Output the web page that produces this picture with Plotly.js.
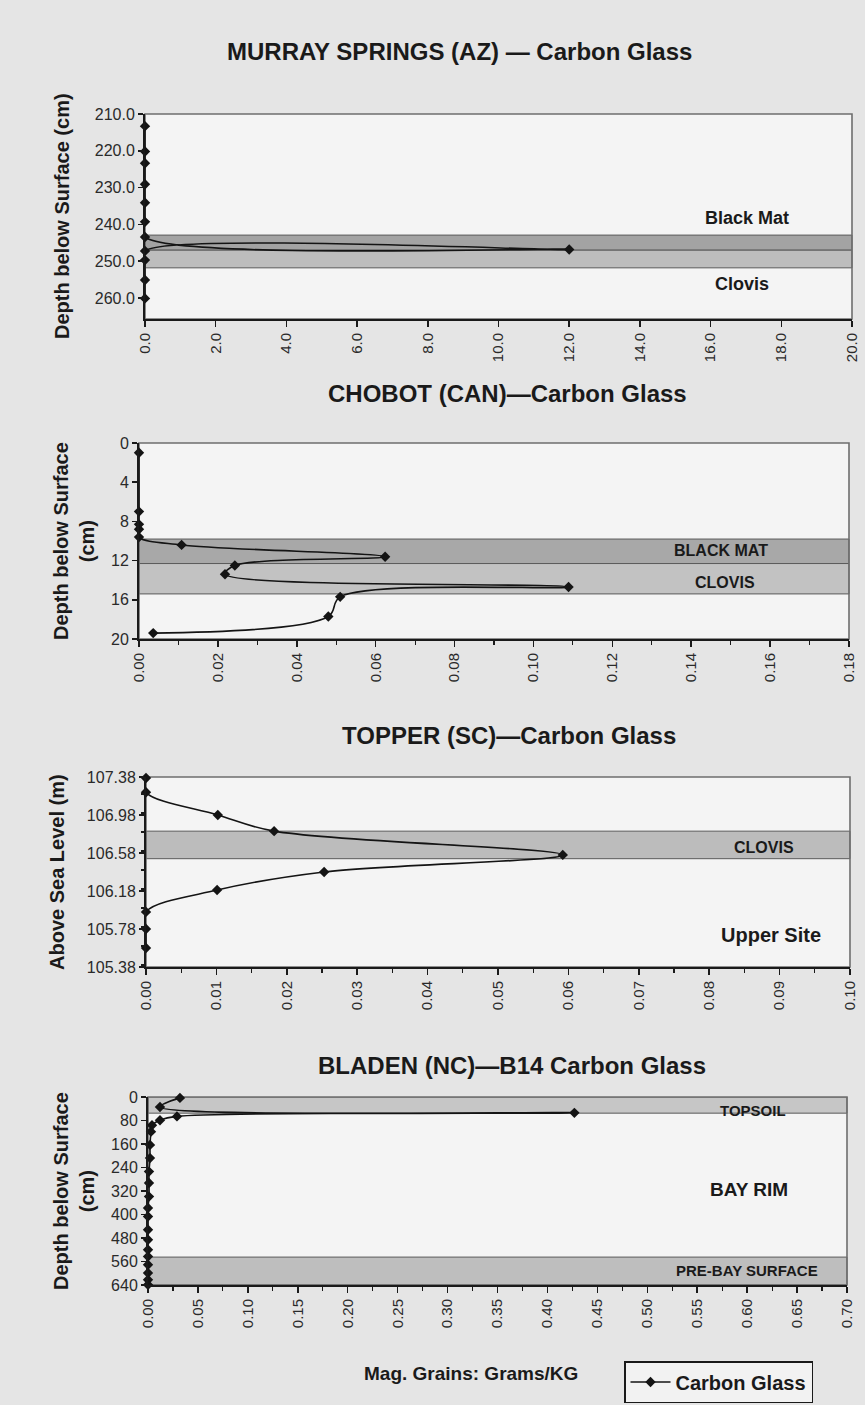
<!DOCTYPE html>
<html>
<head>
<meta charset="utf-8">
<script src="https://cdn.plot.ly/plotly-3.0.1.min.js"></script>
<style>html,body{margin:0;padding:0;background:#e5e5e5;}#chart{width:865px;height:1405px;}</style>
</head>
<body>
<div id="chart"></div>
<script>
// ---------- DATA ----------
const seriesName = "Carbon Glass";
const xAxisTitle = "Mag. Grains: Grams/KG";

// Panel 1: Murray Springs (AZ)
const murrayTitle = "MURRAY SPRINGS (AZ) — Carbon Glass";
const murrayDepth = [213.3, 220.2, 223.4, 229.1, 234.1, 239.3, 243.4, 246.8, 247.2, 249.7, 255.1, 260.1];
const murrayValue = [0, 0, 0, 0, 0, 0, 0, 12.0, 0, 0, 0, 0];
const murrayBands = [["Black Mat", 242.9, 247.0], ["Clovis", 247.0, 251.8]];

// Panel 2: Chobot (CAN)
const chobotTitle = "CHOBOT (CAN)—Carbon Glass";
const chobotDepth = [1.0, 7.0, 8.3, 8.8, 9.6, 10.4, 11.6, 12.5, 13.4, 14.7, 15.7, 17.7, 19.4];
const chobotValue = [0, 0, 0, 0, 0, 0.0108, 0.0624, 0.0243, 0.0218, 0.1089, 0.051, 0.048, 0.0036];
const chobotBands = [["BLACK MAT", 9.8, 12.3], ["CLOVIS", 12.3, 15.4]];

// Panel 3: Topper (SC)
const topperTitle = "TOPPER (SC)—Carbon Glass";
const topperElev = [107.37, 107.22, 106.98, 106.81, 106.56, 106.38, 106.19, 105.96, 105.78, 105.58];
const topperValue = [0, 0, 0.0102, 0.0182, 0.0592, 0.0253, 0.0101, 0, 0, 0];
const topperBands = [["CLOVIS", 106.52, 106.81]];

// Panel 4: Bladen (NC) B14
const bladenTitle = "BLADEN (NC)—B14 Carbon Glass";
const bladenDepth = [3, 34, 54, 66, 79, 96, 118, 163, 208, 254, 293, 339, 378, 407, 452, 486, 520, 543, 571, 599, 622, 639];
const bladenValue = [0.032, 0.012, 0.427, 0.029, 0.012, 0.004, 0.003, 0.002, 0.002, 0.001, 0.001, 0.001, 0, 0, 0, 0, 0, 0, 0, 0, 0, 0];
const bladenBands = [["TOPSOIL", 0, 55], ["PRE-BAY SURFACE", 545, 640]];
const bladenNote = "BAY RIM";
const topperNote = "Upper Site";

// ---------- LAYOUT HELPERS ----------
const W = 865, H = 1405;
const fx = v => v / W;
const fy = v => 1 - v / H;
const FONT = "Liberation Sans, Arial, sans-serif";

function xAxis(anchor, left, right, range, dtick, fmt, minor) {
  const a = {
    anchor: anchor, domain: [fx(left), fx(right)], range: range, autorange: false,
    tick0: 0, dtick: dtick, tickformat: fmt, tickangle: -90,
    showgrid: false, zeroline: false, showline: true, linecolor: "#1a1a1a", linewidth: 2,
    ticks: "outside", ticklen: 6, tickwidth: 1.5, tickcolor: "#1a1a1a",
    tickfont: {family: FONT, size: 15, color: "#2a2a2a"}, fixedrange: true
  };
  if (minor) a.minor = {dtick: minor, ticks: "outside", ticklen: 4, tickwidth: 1.2, tickcolor: "#1a1a1a", showgrid: false};
  return a;
}
function yAxis(anchor, top, bottom, range, tick0, dtick, fmt, minor) {
  const a = {
    anchor: anchor, domain: [fy(bottom), fy(top)], range: range, autorange: false,
    tick0: tick0, dtick: dtick, tickformat: fmt,
    showgrid: false, zeroline: false, showline: true, linecolor: "#1a1a1a", linewidth: 2,
    ticks: "outside", ticklen: 5, tickwidth: 1.5, tickcolor: "#1a1a1a",
    tickfont: {family: FONT, size: 16, color: "#2a2a2a"}, fixedrange: true
  };
  if (minor) a.minor = {dtick: minor, ticks: "outside", ticklen: 3, tickwidth: 1.2, tickcolor: "#1a1a1a", showgrid: false};
  return a;
}
function trace(xs, ys, xa, ya, legend) {
  return {
    x: xs, y: ys, xaxis: xa, yaxis: ya, type: "scatter", mode: "lines+markers",
    name: seriesName, showlegend: legend, cliponaxis: false,
    line: {color: "#141414", width: 1.6, shape: "spline", smoothing: 1},
    marker: {symbol: "diamond", size: 8, color: "#141414"}
  };
}
function band(xa, ya, y0, y1, color) {
  return {type: "rect", xref: xa + " domain", yref: ya, x0: 0, x1: 1, y0: y0, y1: y1,
          fillcolor: color, line: {color: "#5a5a5a", width: 1}, layer: "below"};
}
function frame(xa, ya) {
  return {type: "rect", xref: xa + " domain", yref: ya + " domain", x0: 0, x1: 1, y0: 0, y1: 1,
          fillcolor: "rgba(0,0,0,0)", line: {color: "#6e6e6e", width: 1.6}, layer: "below"};
}
function label(text, x, y, size, bold, angle) {
  return {text: text, xref: "paper", yref: "paper", x: fx(x), y: fy(y), showarrow: false,
          xanchor: "center", yanchor: "middle", textangle: angle || 0,
          font: {family: FONT, size: size, color: "#1a1a1a", weight: bold ? "bold" : "normal"}};
}

const data = [
  trace(murrayValue, murrayDepth, "x", "y", true),
  trace(chobotValue, chobotDepth, "x2", "y2", false),
  trace(topperValue, topperElev, "x3", "y3", false),
  trace(bladenValue, bladenDepth, "x4", "y4", false)
];

const shapes = [
  band("x", "y", murrayBands[0][1], murrayBands[0][2], "#a3a3a3"),
  band("x", "y", murrayBands[1][1], murrayBands[1][2], "#bdbdbd"),
  band("x2", "y2", chobotBands[0][1], chobotBands[0][2], "#a8a8a8"),
  band("x2", "y2", chobotBands[1][1], chobotBands[1][2], "#c2c2c2"),
  band("x3", "y3", topperBands[0][1], topperBands[0][2], "#bcbcbc"),
  band("x4", "y4", bladenBands[0][1], bladenBands[0][2], "#c6c6c6"),
  band("x4", "y4", bladenBands[1][1], bladenBands[1][2], "#bebebe"),
  frame("x", "y"), frame("x2", "y2"), frame("x3", "y3"), frame("x4", "y4")
];

const annotations = [
  label(murrayTitle, 459, 52, 24, true),
  label(chobotTitle, 507, 393, 24, true),
  label(topperTitle, 509, 735, 24, true),
  label(bladenTitle, 512, 1065, 24, true),
  label("Depth below Surface (cm)", 62, 216, 20, true, -90),
  label("Depth below Surface<br>(cm)", 74, 541, 20, true, -90),
  label("Above Sea Level (m)", 57, 872, 20, true, -90),
  label("Depth below Surface<br>(cm)", 74, 1191, 20, true, -90),
  label(murrayBands[0][0], 747, 218, 18, true),
  label(murrayBands[1][0], 742, 284, 18, true),
  label(chobotBands[0][0], 721, 550, 16, true),
  label(chobotBands[1][0], 725, 582, 16, true),
  label(topperBands[0][0], 764, 847, 16, true),
  label(topperNote, 771, 935, 20, true),
  label(bladenBands[0][0], 753, 1110, 15, true),
  label(bladenNote, 749, 1189, 19, true),
  label(bladenBands[1][0], 747, 1270, 15, true),
  label(xAxisTitle, 471, 1373, 19, true)
];

const layout = {
  width: W, height: H, margin: {l: 0, r: 0, t: 0, b: 0},
  paper_bgcolor: "#e5e5e5", plot_bgcolor: "#f4f4f4",
  font: {family: FONT, color: "#1a1a1a"},
  xaxis:  xAxis("y", 145, 852, [0, 20], 2, ".1f", null),
  yaxis:  yAxis("x", 114, 319, [265.7, 210], 210, 10, ".1f", null),
  xaxis2: xAxis("y2", 139, 849, [0, 0.18], 0.02, ".2f", 0.01),
  yaxis2: yAxis("x2", 443, 639, [20, 0], 0, 4, "d", null),
  xaxis3: xAxis("y3", 146, 850, [0, 0.10], 0.01, ".2f", 0.005),
  yaxis3: yAxis("x3", 777, 967, [105.38, 107.38], 105.38, 0.4, ".2f", 0.2),
  xaxis4: xAxis("y4", 148, 847, [0, 0.70], 0.05, ".2f", 0.025),
  yaxis4: yAxis("x4", 1097, 1285, [640, 0], 0, 80, "d", null),
  shapes: shapes,
  annotations: annotations,
  showlegend: true,
  legend: {x: fx(624), y: fy(1361), xanchor: "left", yanchor: "top",
           bgcolor: "#f2f2f2", bordercolor: "#1a1a1a", borderwidth: 1.5,
           itemwidth: 40, font: {family: FONT, size: 20, weight: "bold", color: "#1a1a1a"}}
};

Plotly.newPlot("chart", data, layout, {displayModeBar: false, staticPlot: true});
</script>
</body>
</html>
